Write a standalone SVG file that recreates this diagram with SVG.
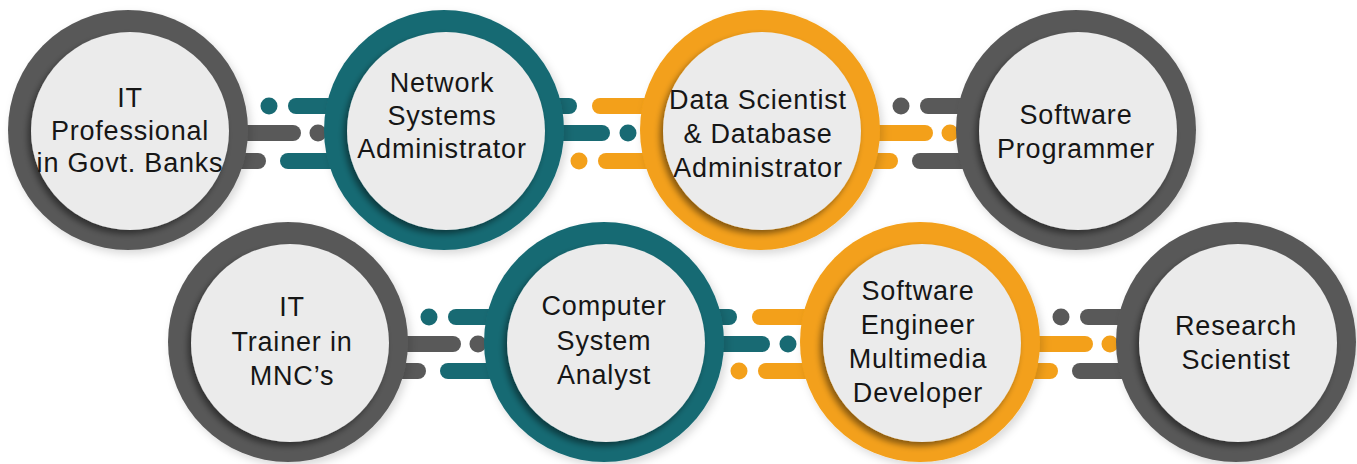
<svg xmlns="http://www.w3.org/2000/svg" width="1357" height="464" viewBox="0 0 1357 464">
<defs>
<filter id="innerShadow" x="-20%" y="-20%" width="140%" height="140%"><feDropShadow dx="-3" dy="4" stdDeviation="3" flood-color="#000" flood-opacity="0.45"/></filter>
<filter id="outerShadow" x="-20%" y="-20%" width="140%" height="140%"><feDropShadow dx="3" dy="4" stdDeviation="4" flood-color="#000" flood-opacity="0.15"/></filter>
</defs>
<style>
.gray{fill:#595959}.teal{fill:#186a73}.orange{fill:#f3a01a}
.ring{filter:url(#outerShadow)}
.inner{fill:#ebebeb;filter:url(#innerShadow)}
.bar{stroke-width:16;stroke-linecap:round;fill:none}
.sg{stroke:#595959}.st{stroke:#186a73}.so{stroke:#f3a01a}
.dg{fill:#595959}.dt{fill:#186a73}.do{fill:#f3a01a}
text{font-family:"Liberation Sans",Arial,sans-serif;font-size:27px;letter-spacing:0.8px;fill:#161616;text-anchor:middle}
</style>
<rect width="1357" height="464" fill="#ffffff"/>
<g id="connectors">
<!-- pair 1 gray1 -> teal2 -->
<circle class="dt" cx="269" cy="106" r="8.5"/>
<line class="bar st" x1="296" y1="106" x2="444" y2="106"/>
<line class="bar sg" x1="128" y1="133" x2="293" y2="133"/>
<circle class="dg" cx="318" cy="133" r="8.5"/>
<line class="bar sg" x1="128" y1="161" x2="258" y2="161"/>
<line class="bar st" x1="288" y1="161" x2="444" y2="161"/>
<!-- pair 2 teal2 -> orange3 -->
<line class="bar st" x1="444" y1="106" x2="569" y2="106"/>
<line class="bar so" x1="600" y1="106" x2="760" y2="106"/>
<line class="bar st" x1="444" y1="133" x2="602" y2="133"/>
<circle class="dt" cx="628" cy="133" r="8.5"/>
<circle class="do" cx="579" cy="161" r="8.5"/>
<line class="bar so" x1="606" y1="161" x2="760" y2="161"/>
<!-- pair 3 orange3 -> gray4 -->
<circle class="dg" cx="901" cy="106" r="8.5"/>
<line class="bar sg" x1="928" y1="106" x2="1076" y2="106"/>
<line class="bar so" x1="760" y1="133" x2="925" y2="133"/>
<circle class="do" cx="950" cy="133" r="8.5"/>
<line class="bar so" x1="760" y1="161" x2="890" y2="161"/>
<line class="bar sg" x1="920" y1="161" x2="1076" y2="161"/>
<!-- pair 4 gray5 -> teal6 -->
<circle class="dt" cx="429" cy="317" r="8.5"/>
<line class="bar st" x1="456" y1="317" x2="604" y2="317"/>
<line class="bar sg" x1="288" y1="344" x2="453" y2="344"/>
<circle class="dg" cx="478" cy="344" r="8.5"/>
<line class="bar sg" x1="288" y1="371" x2="418" y2="371"/>
<line class="bar st" x1="448" y1="371" x2="604" y2="371"/>
<!-- pair 5 teal6 -> orange7 -->
<line class="bar st" x1="604" y1="317" x2="729" y2="317"/>
<line class="bar so" x1="760" y1="317" x2="920" y2="317"/>
<line class="bar st" x1="604" y1="344" x2="762" y2="344"/>
<circle class="dt" cx="788" cy="344" r="8.5"/>
<circle class="do" cx="739" cy="371" r="8.5"/>
<line class="bar so" x1="766" y1="371" x2="920" y2="371"/>
<!-- pair 6 orange7 -> gray8 -->
<circle class="dg" cx="1061" cy="317" r="8.5"/>
<line class="bar sg" x1="1088" y1="317" x2="1236" y2="317"/>
<line class="bar so" x1="920" y1="344" x2="1085" y2="344"/>
<circle class="do" cx="1110" cy="344" r="8.5"/>
<line class="bar so" x1="920" y1="371" x2="1050" y2="371"/>
<line class="bar sg" x1="1080" y1="371" x2="1236" y2="371"/>
</g>
<g id="node-it-professional">
<circle class="ring gray" cx="128" cy="130" r="120"/>
<circle class="inner" cx="130" cy="131" r="99"/>
<text x="130" y="107">IT</text>
<text x="130" y="140">Professional</text>
<text x="130" y="172">in Govt. Banks</text>
</g>
<g id="node-network-admin">
<circle class="ring teal" cx="444" cy="130" r="120"/>
<circle class="inner" cx="446" cy="131" r="99"/>
<text x="442" y="92">Network</text>
<text x="442" y="125">Systems</text>
<text x="442" y="158">Administrator</text>
</g>
<g id="node-data-scientist">
<circle class="ring orange" cx="760" cy="130" r="120"/>
<circle class="inner" cx="762" cy="131" r="99"/>
<text x="758" y="109">Data Scientist</text>
<text x="758" y="143">&amp; Database</text>
<text x="758" y="177">Administrator</text>
</g>
<g id="node-software-programmer">
<circle class="ring gray" cx="1076" cy="130" r="120"/>
<circle class="inner" cx="1078" cy="131" r="99"/>
<text x="1076" y="124">Software</text>
<text x="1076" y="158">Programmer</text>
</g>
<g id="node-it-trainer">
<circle class="ring gray" cx="288" cy="342" r="120"/>
<circle class="inner" cx="290" cy="343" r="99"/>
<text x="292" y="316">IT</text>
<text x="292" y="351">Trainer in</text>
<text x="292" y="385">MNC’s</text>
</g>
<g id="node-computer-analyst">
<circle class="ring teal" cx="604" cy="342" r="120"/>
<circle class="inner" cx="606" cy="343" r="99"/>
<text x="604" y="315">Computer</text>
<text x="604" y="350">System</text>
<text x="604" y="384">Analyst</text>
</g>
<g id="node-software-engineer">
<circle class="ring orange" cx="920" cy="342" r="120"/>
<circle class="inner" cx="922" cy="343" r="99"/>
<text x="918" y="300">Software</text>
<text x="918" y="334">Engineer</text>
<text x="918" y="368">Multimedia</text>
<text x="918" y="402">Developer</text>
</g>
<g id="node-research-scientist">
<circle class="ring gray" cx="1236" cy="342" r="120"/>
<circle class="inner" cx="1238" cy="343" r="99"/>
<text x="1236" y="335">Research</text>
<text x="1236" y="369">Scientist</text>
</g>
</svg>
